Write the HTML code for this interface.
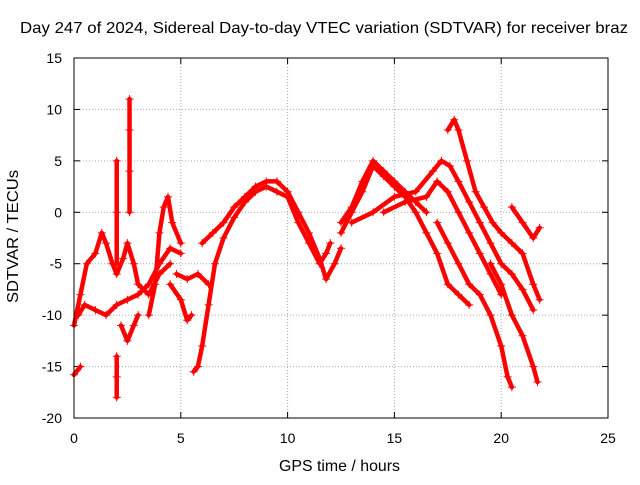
<!DOCTYPE html>
<html><head><meta charset="utf-8"><style>
body{margin:0;background:#fff;font-family:"Liberation Sans",sans-serif}
svg text{font-family:"Liberation Sans",sans-serif;font-size:14px;fill:#000}
</style></head><body>
<svg width="640" height="480" id="c">
<text x="20" y="33" textLength="608" lengthAdjust="spacingAndGlyphs" style="font-size:16px">Day 247 of 2024, Sidereal Day-to-day VTEC variation (SDTVAR) for receiver braz</text>
<text x="279" y="471" textLength="121" lengthAdjust="spacingAndGlyphs" style="font-size:16px">GPS time / hours</text>
<text x="18" y="303" textLength="133" lengthAdjust="spacingAndGlyphs" style="font-size:16px" transform="rotate(-90 18 303)">SDTVAR / TECUs</text>
<g id="grid"></g>
<g id="marks"></g>
<rect x="74" y="58" width="534" height="360" fill="none" stroke="#000"/>
</svg>
<script>
const xTicks=[0,5,10,15,20,25];
const yTicks=[15,10,5,0,-5,-10,-15,-20];
const trackA=[[5.6,-15.5],[5.8,-15],[6,-13],[6.3,-9],[6.6,-5],[7,-2.5],[7.5,-0.5],[8,1],[8.5,2],[9,2.5],[9.5,2],[10,1.5],[10.5,-1],[11,-3],[11.5,-5],[11.8,-4],[12,-3]];
const trackB=[[6,-3],[6.5,-2],[7,-1],[7.5,0.5],[8,1.5],[8.5,2.5],[9,3],[9.5,3],[10,2],[10.5,0],[11,-2],[11.5,-4.5],[11.8,-6.5],[12.2,-5],[12.5,-3.5]];
const trackC=[[12.5,-2],[13,0],[13.5,2],[14,4.5],[14.5,3.5],[15,2.5],[15.5,1.5],[16,0],[16.5,-2],[17,-4],[17.5,-7],[18,-8],[18.5,-9]];
const trackD=[[12.5,-1],[13,0.5],[13.5,3],[14,5],[14.5,4],[15,3],[15.5,2],[16,1],[16.5,0]];
const trackE=[[13,-1],[14,0],[15,1.5],[16,2],[16.8,4],[17.2,5],[17.6,4.5],[18,3],[18.5,1],[19,-1],[19.5,-3],[20,-5],[20.5,-6],[21,-7.5],[21.5,-9.5]];
const trackF=[[17.5,8],[17.8,9],[18,8],[18.4,5],[18.8,2],[19.2,0.5],[19.6,-1],[20,-2],[20.5,-3],[21,-4],[21.5,-7],[21.8,-8.5]];
const trackG=[[20.5,0.5],[21,-1],[21.5,-2.5],[21.8,-1.5]];
const trackH=[[17,-1],[17.5,-3],[18,-5],[18.5,-7],[19,-8],[19.5,-10],[20,-13],[20.3,-16],[20.5,-17]];
const trackI=[[19.5,-5],[20,-7],[20.5,-10],[21,-12],[21.5,-15],[21.7,-16.5]];
const trackJ=[[14.5,0],[15.5,1],[16.5,1.5],[17,3],[17.5,2],[18,0],[18.5,-2],[19,-4],[19.5,-6],[20,-8]];
const trackK=[[0,-11],[0.3,-8],[0.6,-5],[1,-4],[1.3,-2],[1.5,-3],[1.8,-5],[2,-6],[2.3,-4.5],[2.5,-3],[2.8,-5],[3,-7],[3.5,-8],[4,-6],[4.5,-5]];
const trackL=[[0,-15.8],[0.3,-15]];
const trackM=[[0.2,-10],[0.5,-9],[1,-9.5],[1.5,-10],[2,-9],[2.5,-8.5],[3,-8],[3.5,-7],[4,-5],[4.5,-3.5],[5,-4]];
const trackN=[[2,-5],[2,0],[2,5]];
const trackN2=[[2.6,0],[2.6,4],[2.6,8],[2.6,11]];
const trackO=[[3.5,-10],[3.8,-7],[4,-2],[4.2,0.5],[4.4,1.5],[4.6,-1],[5,-3]];
const trackP=[[4.5,-7],[5,-8.5],[5.3,-10.5],[5.5,-10]];
const trackP2=[[4.8,-6],[5.3,-6.5],[5.8,-6],[6.3,-7]];
const trackQ=[[2.2,-11],[2.5,-12.5],[2.8,-11],[3,-10]];
const trackR=[[2,-14],[2,-16],[2,-18]];
const tracks=[trackA,trackB,trackC,trackD,trackE,trackF,trackG,trackH,trackI,trackJ,trackK,trackL,trackM,trackN,trackN2,trackO,trackP,trackP2,trackQ,trackR];
const X=v=>74+v*534/25, Y=v=>58+(15-v)*360/35;
const NS="http://www.w3.org/2000/svg";
const g=document.getElementById('grid'), m=document.getElementById('marks');
function mk(t,a,p){const e=document.createElementNS(NS,t);for(const k in a)e.setAttribute(k,a[k]);p.appendChild(e);return e;}
xTicks.forEach(t=>{const x=X(t);
 if(t>0&&t<25){const l=mk('line',{x1:x,x2:x,y1:58,y2:418,stroke:'#aaa','stroke-dasharray':'1,2'},g);}
 mk('line',{x1:x,x2:x,y1:418,y2:412,stroke:'#000'},g);mk('line',{x1:x,x2:x,y1:58,y2:64,stroke:'#000'},g);
 const tx=mk('text',{x:x,y:443,'text-anchor':'middle'},g);tx.textContent=t;
 });
yTicks.forEach(t=>{const y=Y(t);
 if(t<15&&t>-20){const l=mk('line',{x1:74,x2:608,y1:y,y2:y,stroke:'#aaa','stroke-dasharray':'1,2'},g);}
 mk('line',{x1:74,x2:80,y1:y,y2:y,stroke:'#000'},g);mk('line',{x1:608,x2:602,y1:y,y2:y,stroke:'#000'},g);
 const tx=mk('text',{x:62,y:y+5,'text-anchor':'end'},g);tx.textContent=t;
 });
tracks.forEach(tr=>{
 const pl=mk('polyline',{points:tr.map(p=>X(p[0])+','+Y(p[1])).join(' '),fill:'none',stroke:'#f00','stroke-width':4.5,'stroke-linejoin':'round','stroke-linecap':'round'},m);
 
 
 tr.forEach(p=>{const x=X(p[0]),y=Y(p[1]);
  const pt=mk('path',{d:`M${x-4},${y}h8M${x},${y-4}v8`,stroke:'#f00','stroke-width':1},m);
  
  });
});
</script>
</body></html>
